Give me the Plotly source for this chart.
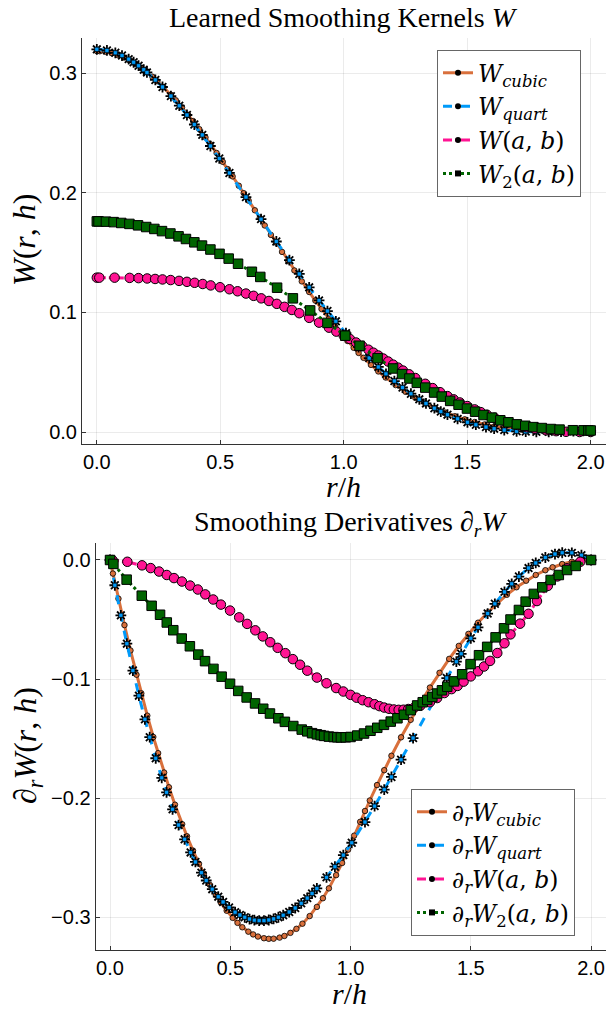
import plotly.graph_objects as go

# ---------------- data ----------------
cubic_r = [0.0, 0.012, 0.035, 0.06, 0.085, 0.11, 0.13, 0.155, 0.18, 0.2, 0.225, 0.245, 0.27, 0.3, 0.32, 0.345, 0.37, 0.39, 0.415, 0.44, 0.46, 0.485, 0.51, 0.53, 0.55, 0.575, 0.595, 0.615, 0.64, 0.66, 0.68, 0.705, 0.725, 0.75, 0.775, 0.8, 0.83, 0.86, 0.885, 0.91, 0.94, 0.965, 0.99, 1.015, 1.04, 1.06, 1.08, 1.11, 1.14, 1.17, 1.21, 1.25, 1.29, 1.33, 1.37, 1.41, 1.45, 1.49, 1.53, 1.57, 1.61, 1.65, 1.69, 1.73, 1.77, 1.81, 1.84, 1.88, 1.92, 1.96, 2.0]
cubic_W = [0.3183, 0.3182, 0.3177, 0.3166, 0.3150, 0.3129, 0.3108, 0.3077, 0.3042, 0.3011, 0.2969, 0.2932, 0.2882, 0.2818, 0.2772, 0.2713, 0.2650, 0.2599, 0.2531, 0.2462, 0.2405, 0.2332, 0.2258, 0.2197, 0.2136, 0.2058, 0.1996, 0.1933, 0.1853, 0.1790, 0.1726, 0.1647, 0.1583, 0.1505, 0.1427, 0.1350, 0.1259, 0.1170, 0.1098, 0.1028, 0.0947, 0.0882, 0.0820, 0.0761, 0.0704, 0.0661, 0.0620, 0.0561, 0.0506, 0.0455, 0.0392, 0.0336, 0.0285, 0.0239, 0.0199, 0.0163, 0.0132, 0.0106, 0.0083, 0.0063, 0.0047, 0.0034, 0.0024, 0.0016, 0.0010, 0.0005, 0.0003, 0.0001, 0.0000, 0.0000, 0.0]
cubic_dW = [0.0, -0.0114, -0.0325, -0.0547, -0.0760, -0.0964, -0.1120, -0.1308, -0.1487, -0.1623, -0.1786, -0.1910, -0.2056, -0.2220, -0.2322, -0.2442, -0.2553, -0.2635, -0.2730, -0.2815, -0.2877, -0.2947, -0.3007, -0.3049, -0.3086, -0.3123, -0.3146, -0.3164, -0.3178, -0.3183, -0.3182, -0.3173, -0.3159, -0.3133, -0.3099, -0.3056, -0.2992, -0.2915, -0.2842, -0.2759, -0.2648, -0.2546, -0.2434, -0.2316, -0.2200, -0.2109, -0.2021, -0.1891, -0.1766, -0.1645, -0.1490, -0.1343, -0.1203, -0.1072, -0.0948, -0.0831, -0.0722, -0.0621, -0.0527, -0.0441, -0.0363, -0.0292, -0.0229, -0.0174, -0.0126, -0.0086, -0.0061, -0.0034, -0.0015, -0.0004, 0.0]

# quartic kernel, sampled points of the top panel
quart_r_W = [0.0, 0.041, 0.075, 0.102, 0.129, 0.149, 0.169, 0.19, 0.203, 0.237, 0.266, 0.3, 0.334, 0.365, 0.395, 0.427, 0.46, 0.496, 0.537, 0.604, 0.665, 0.727, 0.78, 0.82, 0.86, 0.9, 0.934, 0.968, 1.009, 1.06, 1.103, 1.14, 1.171, 1.205, 1.238, 1.272, 1.306, 1.333, 1.367, 1.393, 1.42, 1.461, 1.501, 1.535, 1.576, 1.609, 1.65, 1.7, 1.737, 1.78, 1.83, 1.88, 1.93, 1.97, 2.0]
quart_W = [0.3198, 0.3189, 0.3169, 0.3146, 0.3116, 0.3090, 0.3061, 0.3028, 0.3005, 0.2942, 0.2883, 0.2807, 0.2727, 0.2649, 0.2570, 0.2483, 0.2390, 0.2286, 0.2165, 0.1963, 0.1779, 0.1592, 0.1436, 0.1321, 0.1209, 0.1100, 0.1011, 0.0925, 0.0826, 0.0709, 0.0618, 0.0544, 0.0486, 0.0426, 0.0372, 0.0320, 0.0273, 0.0239, 0.0199, 0.0171, 0.0145, 0.0110, 0.0081, 0.0061, 0.0041, 0.0028, 0.0016, 0.0006, 0.0003, 0.0001, 0.0001, 0.0004, 0.0007, 0.0009, 0.0010]
# quartic derivative, sampled points of the bottom panel
quart_r_dW = [0.0, 0.02, 0.045, 0.07, 0.095, 0.12, 0.145, 0.165, 0.19, 0.215, 0.235, 0.26, 0.285, 0.31, 0.335, 0.355, 0.38, 0.4, 0.425, 0.45, 0.47, 0.495, 0.52, 0.54, 0.56, 0.58, 0.6, 0.62, 0.64, 0.66, 0.68, 0.7, 0.72, 0.745, 0.77, 0.795, 0.82, 0.84, 0.86, 0.9, 0.935, 0.97, 1.005, 1.06, 1.1, 1.14, 1.17, 1.21, 1.26, 1.4, 1.44, 1.46, 1.5, 1.53, 1.57, 1.6, 1.64, 1.67, 1.7, 1.74, 1.77, 1.81, 1.85, 1.88, 1.92, 1.96, 2.0]
quart_dW = [0.0, -0.0212, -0.0465, -0.0703, -0.0929, -0.1140, -0.1339, -0.1489, -0.1666, -0.1830, -0.1952, -0.2095, -0.2227, -0.2347, -0.2457, -0.2537, -0.2627, -0.2693, -0.2766, -0.2829, -0.2873, -0.2920, -0.2959, -0.2983, -0.3002, -0.3017, -0.3026, -0.3030, -0.3030, -0.3025, -0.3016, -0.3002, -0.2985, -0.2958, -0.2924, -0.2885, -0.2841, -0.2802, -0.2760, -0.2667, -0.2577, -0.2480, -0.2376, -0.2202, -0.2068, -0.1929, -0.1823, -0.1678, -0.1496, -0.0992, -0.0854, -0.0788, -0.0658, -0.0566, -0.0450, -0.0368, -0.0268, -0.0200, -0.0139, -0.0068, -0.0025, 0.0021, 0.0050, 0.0061, 0.0060, 0.0040, 0.0]

ab_r = [0.0, 0.01, 0.072, 0.133, 0.169, 0.204, 0.236, 0.266, 0.299, 0.333, 0.365, 0.396, 0.429, 0.461, 0.499, 0.537, 0.57, 0.604, 0.635, 0.666, 0.697, 0.729, 0.76, 0.79, 0.82, 0.86, 0.9, 0.94, 0.97, 1.0, 1.025, 1.05, 1.075, 1.1, 1.12, 1.14, 1.16, 1.18, 1.2, 1.22, 1.24, 1.265, 1.29, 1.33, 1.36, 1.39, 1.42, 1.445, 1.47, 1.5, 1.53, 1.555, 1.58, 1.61, 1.64, 1.665, 1.705, 1.74, 1.775, 1.82, 1.86, 1.9, 1.955, 2.0]
ab_W = [0.1290, 0.1290, 0.1290, 0.1288, 0.1286, 0.1283, 0.1279, 0.1275, 0.1270, 0.1263, 0.1255, 0.1247, 0.1237, 0.1225, 0.1210, 0.1193, 0.1176, 0.1157, 0.1138, 0.1117, 0.1095, 0.1071, 0.1046, 0.1020, 0.0993, 0.0954, 0.0914, 0.0872, 0.0839, 0.0805, 0.0777, 0.0748, 0.0718, 0.0688, 0.0663, 0.0639, 0.0614, 0.0589, 0.0563, 0.0538, 0.0513, 0.0482, 0.0451, 0.0403, 0.0367, 0.0333, 0.0300, 0.0273, 0.0247, 0.0217, 0.0189, 0.0166, 0.0144, 0.0120, 0.0097, 0.0081, 0.0058, 0.0040, 0.0026, 0.0014, 0.0007, 0.0002, 0.0000, 0.0]
ab_dW = [0.0, -0.0001, -0.0015, -0.0045, -0.0068, -0.0097, -0.0126, -0.0152, -0.0181, -0.0215, -0.0248, -0.0289, -0.0332, -0.0375, -0.0425, -0.0482, -0.0537, -0.0591, -0.0642, -0.0691, -0.0738, -0.0783, -0.0833, -0.0880, -0.0930, -0.0988, -0.1036, -0.1076, -0.1105, -0.1133, -0.1157, -0.1178, -0.1195, -0.1212, -0.1228, -0.1240, -0.1250, -0.1256, -0.1259, -0.1258, -0.1252, -0.1240, -0.1225, -0.1195, -0.1160, -0.1118, -0.1085, -0.1058, -0.1022, -0.0978, -0.0935, -0.0895, -0.0848, -0.0782, -0.0700, -0.0625, -0.0535, -0.0452, -0.0345, -0.0218, -0.0138, -0.0070, -0.0015, 0.0]

ab2_r_W = [0.0, 0.007, 0.037, 0.068, 0.099, 0.132, 0.167, 0.2, 0.233, 0.264, 0.298, 0.331, 0.361, 0.395, 0.426, 0.46, 0.497, 0.534, 0.572, 0.628, 0.662, 0.73, 0.794, 0.864, 0.934, 1.006, 1.064, 1.137, 1.2, 1.236, 1.266, 1.296, 1.33, 1.366, 1.397, 1.431, 1.465, 1.499, 1.532, 1.566, 1.6, 1.634, 1.667, 1.701, 1.735, 1.768, 1.802, 1.839, 1.874, 1.928, 1.971, 1.991, 2.0]
ab2_W = [0.1760, 0.1760, 0.1758, 0.1754, 0.1747, 0.1739, 0.1727, 0.1713, 0.1697, 0.1679, 0.1659, 0.1635, 0.1613, 0.1585, 0.1558, 0.1525, 0.1489, 0.1449, 0.1406, 0.1339, 0.1296, 0.1206, 0.1117, 0.1016, 0.0912, 0.0805, 0.0721, 0.0617, 0.0531, 0.0484, 0.0447, 0.0411, 0.0371, 0.0330, 0.0296, 0.0260, 0.0228, 0.0196, 0.0170, 0.0142, 0.0120, 0.0098, 0.0081, 0.0064, 0.0052, 0.0041, 0.0033, 0.0025, 0.0020, 0.0015, 0.0014, 0.0013, 0.0013]
ab2_r_dW = [0.0, 0.014, 0.069, 0.132, 0.173, 0.208, 0.236, 0.263, 0.298, 0.332, 0.367, 0.395, 0.43, 0.464, 0.499, 0.533, 0.568, 0.603, 0.637, 0.665, 0.7, 0.727, 0.762, 0.797, 0.82, 0.84, 0.86, 0.876, 0.89, 0.91, 0.93, 0.945, 0.96, 0.98, 1.0, 1.028, 1.056, 1.083, 1.111, 1.139, 1.167, 1.195, 1.222, 1.25, 1.277, 1.3, 1.319, 1.34, 1.36, 1.38, 1.402, 1.43, 1.464, 1.499, 1.534, 1.568, 1.603, 1.638, 1.665, 1.7, 1.728, 1.762, 1.797, 1.832, 1.866, 1.9, 1.936, 2.0]
ab2_dW = [0.0, -0.0033, -0.0165, -0.0300, -0.0385, -0.0460, -0.0525, -0.0590, -0.0660, -0.0725, -0.0795, -0.0850, -0.0915, -0.0980, -0.1040, -0.1100, -0.1155, -0.1205, -0.1250, -0.1290, -0.1330, -0.1360, -0.1395, -0.1425, -0.1440, -0.1455, -0.1465, -0.1472, -0.1478, -0.1484, -0.1488, -0.1490, -0.1491, -0.1490, -0.1487, -0.1475, -0.1458, -0.1435, -0.1410, -0.1385, -0.1358, -0.1330, -0.1300, -0.1262, -0.1222, -0.1195, -0.1176, -0.1150, -0.1122, -0.1095, -0.1065, -0.1020, -0.0960, -0.0875, -0.0800, -0.0730, -0.0650, -0.0574, -0.0500, -0.0420, -0.0350, -0.0285, -0.0230, -0.0168, -0.0126, -0.0084, -0.0050, 0.0]

x_ticks = [0.0, 0.5, 1.0, 1.5, 2.0]
x_tick_text = ["0.0", "0.5", "1.0", "1.5", "2.0"]
top_y_ticks = [0.0, 0.1, 0.2, 0.3]
top_y_text = ["0.0", "0.1", "0.2", "0.3"]
bot_y_ticks = [-0.3, -0.2, -0.1, 0.0]
bot_y_text = ["\u22120.3", "\u22120.2", "\u22120.1", "0.0"]

top_names = ["<i>W</i><sub><i>cubic</i></sub>", "<i>W</i><sub><i>quart</i></sub>",
             "<i>W</i>(<i>a</i>, <i>b</i>)", "<i>W</i><sub>2</sub>(<i>a</i>, <i>b</i>)"]
bot_names = ["\u2202<sub><i>r</i></sub><i>W</i><sub><i>cubic</i></sub>",
             "\u2202<sub><i>r</i></sub><i>W</i><sub><i>quart</i></sub>",
             "\u2202<sub><i>r</i></sub><i>W</i>(<i>a</i>, <i>b</i>)",
             "\u2202<sub><i>r</i></sub><i>W</i><sub>2</sub>(<i>a</i>, <i>b</i>)"]

# ---------------- styles ----------------
C_ORANGE = "#D9703C"
C_BLUE = "#009AF9"
C_PINK = "#FF1493"
C_GREEN = "#006400"
SERIF = "Liberation Serif"
LEG_SERIF = "DejaVu Serif"
SANS = "Liberation Sans"

fig = go.Figure()


def add_panel(xa, ya, cr, cy, qr, qy, ar, ay, gr, gy, names, legend):
    # cubic
    fig.add_trace(go.Scatter(x=cr, y=cy, mode="lines+markers", xaxis=xa, yaxis=ya,
                             line=dict(color=C_ORANGE, width=3),
                             marker=dict(symbol="circle", size=5.5, color=C_ORANGE,
                                         line=dict(color="black", width=0.8)),
                             showlegend=False, hoverinfo="skip"))
    # quartic: dashed line + star-like markers
    fig.add_trace(go.Scatter(x=qr, y=qy, mode="lines", xaxis=xa, yaxis=ya,
                             line=dict(color=C_BLUE, width=3, dash="dash"),
                             showlegend=False, hoverinfo="skip"))
    fig.add_trace(go.Scatter(x=qr, y=qy, mode="markers", xaxis=xa, yaxis=ya,
                             marker=dict(symbol="asterisk", size=9, color="black",
                                         line=dict(color="black", width=1.8)),
                             showlegend=False, hoverinfo="skip"))
    fig.add_trace(go.Scatter(x=qr, y=qy, mode="markers", xaxis=xa, yaxis=ya,
                             marker=dict(symbol="square", size=4, color=C_BLUE,
                                         line=dict(color="black", width=0.5)),
                             showlegend=False, hoverinfo="skip"))
    # W(a,b)
    fig.add_trace(go.Scatter(x=ar, y=ay, mode="lines+markers", xaxis=xa, yaxis=ya,
                             line=dict(color=C_PINK, width=3, dash="dashdot"),
                             marker=dict(symbol="circle", size=9.5, color=C_PINK,
                                         line=dict(color="black", width=1)),
                             showlegend=False, hoverinfo="skip"))
    # W2(a,b)
    fig.add_trace(go.Scatter(x=gr, y=gy, mode="lines+markers", xaxis=xa, yaxis=ya,
                             line=dict(color=C_GREEN, width=3, dash="dot"),
                             marker=dict(symbol="square", size=9.5, color=C_GREEN,
                                         line=dict(color="black", width=1)),
                             showlegend=False, hoverinfo="skip"))
    # legend entries
    specs = [(C_ORANGE, "solid", "circle"), (C_BLUE, "dash", "circle"),
             (C_PINK, "dashdot", "circle"), (C_GREEN, "dot", "square")]
    for (col, dash, sym), nm in zip(specs, names):
        fig.add_trace(go.Scatter(x=[None], y=[None], mode="lines+markers", xaxis=xa, yaxis=ya,
                                 name=nm, legend=legend,
                                 line=dict(color=col, width=3, dash=dash),
                                 marker=dict(symbol=sym, size=6, color="black"),
                                 hoverinfo="skip"))


add_panel("x", "y", cubic_r, cubic_W, quart_r_W, quart_W, ab_r, ab_W,
          ab2_r_W, ab2_W, top_names, "legend")
add_panel("x2", "y2", cubic_r, cubic_dW, quart_r_dW, quart_dW, ab_r, ab_dW,
          ab2_r_dW, ab2_dW, bot_names, "legend2")

axis_common = dict(showline=True, linecolor="#333333", linewidth=1, ticks="inside",
                   ticklen=4, tickcolor="#333333", showgrid=True,
                   gridcolor="rgba(0,0,0,0.08)", gridwidth=1, zeroline=False,
                   tickfont=dict(family=SANS, size=20, color="black"), mirror=False)

fig.update_layout(
    width=608, height=1009,
    margin=dict(l=0, r=0, t=0, b=0),
    paper_bgcolor="white", plot_bgcolor="white",
    font=dict(family=SANS, color="black"),
    xaxis=dict(domain=[82 / 608, 605.5 / 608], anchor="y", range=[-0.06, 2.06],
               tickvals=x_ticks, ticktext=x_tick_text, **axis_common),
    yaxis=dict(domain=[1 - 443.5 / 1009, 1 - 37.6 / 1009], anchor="x",
               range=[-0.0096, 0.3296], tickvals=top_y_ticks, ticktext=top_y_text,
               **axis_common),
    xaxis2=dict(domain=[95.6 / 608, 605.5 / 608], anchor="y2", range=[-0.06, 2.06],
                tickvals=x_ticks, ticktext=x_tick_text, **axis_common),
    yaxis2=dict(domain=[1 - 950 / 1009, 1 - 542.5 / 1009], anchor="x2",
                range=[-0.3277, 0.0147], tickvals=bot_y_ticks, ticktext=bot_y_text,
                **axis_common),
    legend=dict(x=437 / 608, y=1 - 50 / 1009, xanchor="left", yanchor="top",
                bgcolor="white", bordercolor="#666666", borderwidth=1,
                font=dict(family=LEG_SERIF, size=23.5, color="black")),
    legend2=dict(x=411 / 608, y=1 - 789 / 1009, xanchor="left", yanchor="top",
                 bgcolor="white", bordercolor="#666666", borderwidth=1,
                 font=dict(family=LEG_SERIF, size=23.5, color="black")),
)

ann = [
    dict(text="Learned Smoothing Kernels <i>W</i>", x=343.5 / 608, y=1 - 17 / 1009, size=28),
    dict(text="Smoothing Derivatives \u2202<sub><i>r</i></sub><i>W</i>", x=350 / 608,
         y=1 - 523 / 1009, size=28),
    dict(text="<i>r</i>/<i>h</i>", x=343 / 608, y=1 - 486 / 1009, size=30),
    dict(text="<i>r</i>/<i>h</i>", x=349 / 608, y=1 - 993 / 1009, size=30),
]
for a in ann:
    fig.add_annotation(text=a["text"], x=a["x"], y=a["y"], xref="paper", yref="paper",
                       xanchor="center", yanchor="middle", showarrow=False,
                       font=dict(family=SERIF, size=a["size"], color="black"))
fig.add_annotation(text="<i>W</i>(<i>r</i>, <i>h</i>)", x=24 / 608, y=1 - 240 / 1009,
                   xref="paper", yref="paper", xanchor="center", yanchor="middle",
                   showarrow=False, textangle=-90,
                   font=dict(family=SERIF, size=32, color="black"))
fig.add_annotation(text="\u2202<sub><i>r</i></sub><i>W</i>(<i>r</i>, <i>h</i>)", x=27 / 608,
                   y=1 - 746 / 1009, xref="paper", yref="paper", xanchor="center",
                   yanchor="middle", showarrow=False, textangle=-90,
                   font=dict(family=SERIF, size=32, color="black"))

fig.write_html("out.html")
